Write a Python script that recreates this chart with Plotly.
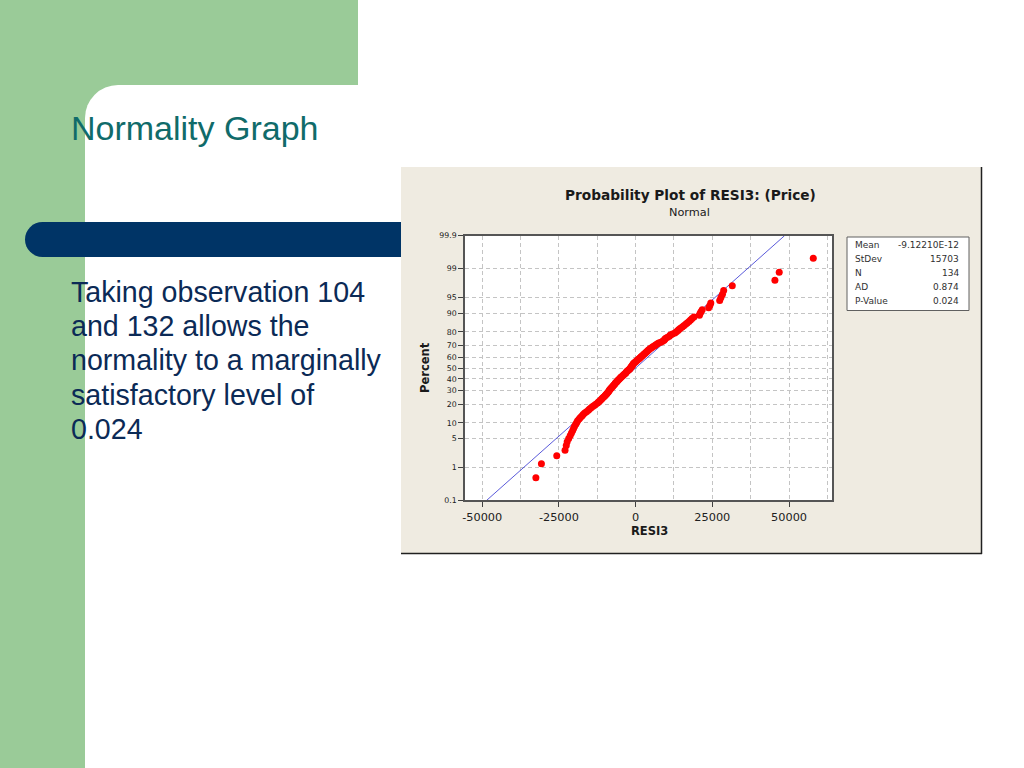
import plotly.graph_objects as go
from statistics import NormalDist

W, H = 1024, 768

# ---------------- data ----------------
residuals = [
    -32500, -30700, -25700, -23000, -22600, -22300, -21800, -21300, -20900, -20500,
    -20200, -19900, -19500, -19200, -18900, -18400, -18000, -17500, -17100, -16600,
    -16000, -15400, -15000, -14500, -14000, -13500, -13000, -12400, -12100, -11700,
    -11300, -11000, -10700, -10300, -10000, -9700, -9400, -9200, -8900, -8700,
    -8500, -8300, -8000, -7800, -7500, -7300, -7000, -6800, -6600, -6300,
    -6100, -5800, -5600, -5300, -5000, -4800, -4500, -4200, -3900, -3600,
    -3300, -3100, -2900, -2600, -2300, -2000, -1800, -1600, -1400, -1200,
    -1000, -900, -700, -400, -100, 200, 500, 800, 1100, 1400,
    1700, 2000, 2300, 2600, 2900, 3200, 3500, 3800, 4100, 4400,
    4800, 5200, 5600, 6100, 6500, 7000, 7500, 8200, 8800, 9300,
    9500, 9800, 10400, 11000, 11300, 12000, 12800, 13300, 13800, 14100,
    14600, 15200, 15700, 16300, 16800, 17400, 17900, 18400, 19000, 20800,
    21000, 21300, 21700, 23800, 24200, 24500, 27400, 27800, 28300, 28700,
    31500, 45400, 46800, 57900,
]
fit_mean = -9.12210e-12
fit_stdev = 15703
stats_labels = ["Mean", "StDev", "N", "AD", "P-Value"]
stats_values = ["-9.12210E-12", "15703", "134", "0.874", "0.024"]
percent_ticks = [0.1, 1, 5, 10, 20, 30, 40, 50, 60, 70, 80, 90, 95, 99, 99.9]
percent_tick_text = ["0.1", "1", "5", "10", "20", "30", "40", "50", "60", "70",
                     "80", "90", "95", "99", "99.9"]
x_ticks = [-50000, -25000, 0, 25000, 50000]
x_tick_text = ["-50000", "-25000", "0", "25000", "50000"]

slide_title = "Normality Graph"
body_lines = ["Taking observation 104", "and 132 allows the",
              "normality to a marginally", "satisfactory level of", "0.024"]

# ---------------- derived (probability-plot positions) ----------------
nd = NormalDist()
n = len(residuals)
sorted_res = sorted(residuals)
z_pos = [nd.inv_cdf((i + 1 - 0.3) / (n + 0.4)) for i in range(n)]
z_ticks = [nd.inv_cdf(p / 100.0) for p in percent_ticks]
z_lo, z_hi = z_ticks[0], z_ticks[-1]
line_z = [z_lo, z_hi]
line_x = [fit_mean + fit_stdev * z for z in line_z]


def fx(x):
    return x / W


def fy(y):
    return 1 - y / H


fig = go.Figure()
fig.add_trace(go.Scatter(x=line_x, y=line_z, mode="lines",
                         line=dict(color="#3030D0", width=0.8),
                         hoverinfo="skip", showlegend=False))
fig.add_trace(go.Scatter(x=sorted_res, y=z_pos, mode="markers",
                         marker=dict(color="#FF0000", size=7),
                         showlegend=False))

shapes = []


def rect(x0, y0, x1, y1, color, line=None, layer="below"):
    d = dict(type="rect", xref="paper", yref="paper",
             x0=fx(x0), x1=fx(x1), y0=fy(y1), y1=fy(y0),
             fillcolor=color, layer=layer, line=dict(width=0))
    if line:
        d["line"] = line
    shapes.append(d)


def circle(x0, y0, x1, y1, color):
    shapes.append(dict(type="circle", xref="paper", yref="paper",
                       x0=fx(x0), x1=fx(x1), y0=fy(y1), y1=fy(y0),
                       fillcolor=color, layer="below", line=dict(width=0)))


GREEN = "#9ACB98"
NAVY = "#003466"
PANEL = "#EFEBE1"

# slide decoration
rect(0, 0, 85, 768, GREEN)
rect(0, 0, 358, 85, GREEN)
rect(85, 85, 120, 120, GREEN)
circle(85, 85, 151, 151, "white")
rect(118, 85, 358, 151, "white")
rect(85, 118, 151, 768, "white")
# navy bar
circle(25, 222, 60, 257, NAVY)
rect(42, 222, 402, 257, NAVY)
# chart panel
rect(401, 167, 982, 554, PANEL)
shapes.append(dict(type="line", xref="paper", yref="paper",
                   x0=fx(981.5), x1=fx(981.5), y0=fy(167), y1=fy(554),
                   line=dict(color="#202020", width=1.5), layer="below"))
shapes.append(dict(type="line", xref="paper", yref="paper",
                   x0=fx(401), x1=fx(982), y0=fy(553.5), y1=fy(553.5),
                   line=dict(color="#202020", width=1.5), layer="below"))
# plot area background
shapes.append(dict(type="rect", xref="x domain", yref="y domain",
                   x0=0, x1=1, y0=0, y1=1, fillcolor="white",
                   line=dict(width=0), layer="below"))
# stats box
rect(847, 237, 969, 310.5, "white",
     line=dict(color="#606060", width=1), layer="above")

annotations = []
TXT = "Liberation Sans, Arial, sans-serif"
MT = "DejaVu Sans, Verdana, sans-serif"

annotations.append(dict(text=slide_title, x=fx(69), y=fy(127.5), xref="paper",
                        yref="paper", xanchor="left", yanchor="middle",
                        showarrow=False,
                        font=dict(family=TXT, size=34, color="#106B6A")))
for k, line in enumerate(body_lines):
    annotations.append(dict(text=line, x=fx(68.5), y=fy(292 + 34.2 * k),
                            xref="paper", yref="paper", xanchor="left",
                            yanchor="middle", showarrow=False,
                            font=dict(family=TXT, size=28.6, color="#0B2A56")))

annotations.append(dict(text="<b>Probability Plot of RESI3: (Price)</b>",
                        x=fx(690.5), y=fy(195), xref="paper", yref="paper",
                        xanchor="center", yanchor="middle", showarrow=False,
                        font=dict(family=MT, size=13.7, color="#1A1A1A")))
annotations.append(dict(text="Normal", x=fx(689), y=fy(212), xref="paper",
                        yref="paper", xanchor="center", yanchor="middle",
                        showarrow=False,
                        font=dict(family=MT, size=11.3, color="#1A1A1A")))
annotations.append(dict(text="<b>Percent</b>", x=fx(425), y=fy(368),
                        xref="paper", yref="paper", xanchor="center",
                        yanchor="middle", textangle=-90, showarrow=False,
                        font=dict(family=MT, size=11.5, color="#1A1A1A")))
annotations.append(dict(text="<b>RESI3</b>", x=fx(649), y=fy(531),
                        xref="paper", yref="paper", xanchor="center",
                        yanchor="middle", showarrow=False,
                        font=dict(family=MT, size=11.5, color="#1A1A1A")))
for k, (lab, val) in enumerate(zip(stats_labels, stats_values)):
    yy = fy(245 + 14.1 * k)
    annotations.append(dict(text=lab, x=fx(853), y=yy, xref="paper",
                            yref="paper", xanchor="left", yanchor="middle",
                            showarrow=False,
                            font=dict(family=MT, size=9, color="#303030")))
    annotations.append(dict(text=val, x=fx(961), y=yy, xref="paper",
                            yref="paper", xanchor="right", yanchor="middle",
                            showarrow=False,
                            font=dict(family=MT, size=9, color="#303030")))

grid_dash = "4px,3px"
fig.update_layout(
    width=W, height=H, margin=dict(l=0, r=0, t=0, b=0, pad=0, autoexpand=False),
    paper_bgcolor="white", plot_bgcolor="rgba(0,0,0,0)",
    showlegend=False, shapes=shapes, annotations=annotations,
    xaxis=dict(domain=[fx(465), fx(832)], range=[-55600, 64000],
               automargin=False,
               tickmode="array", tickvals=x_ticks, ticktext=x_tick_text,
               ticks="outside", ticklen=5, tickcolor="#404040",
               tickfont=dict(family=MT, size=11.3, color="#202020"),
               showgrid=True, gridcolor="#C4C4C4", griddash=grid_dash,
               gridwidth=1,
               minor=dict(tickmode="array",
                          tickvals=[-37500, -12500, 12500, 37500, 62500],
                          showgrid=True, gridcolor="#C4C4C4",
                          griddash=grid_dash, ticks=""),
               showline=True, mirror=True, linecolor="#555555", linewidth=1.5,
               zeroline=False, fixedrange=True),
    yaxis=dict(domain=[fy(500.3), fy(235.7)], range=[z_lo, z_hi],
               automargin=False,
               tickmode="array", tickvals=z_ticks, ticktext=percent_tick_text,
               ticks="outside", ticklen=5, tickcolor="#404040",
               tickfont=dict(family=MT, size=7.8, color="#202020"),
               showgrid=True, gridcolor="#C4C4C4", griddash=grid_dash,
               gridwidth=1,
               showline=True, mirror=True, linecolor="#555555", linewidth=1.5,
               zeroline=False, fixedrange=True),
)

fig.write_html("out.html", config={"displayModeBar": False},
               post_script="document.body.style.margin='0';"
                           "document.body.style.overflow='hidden';")
